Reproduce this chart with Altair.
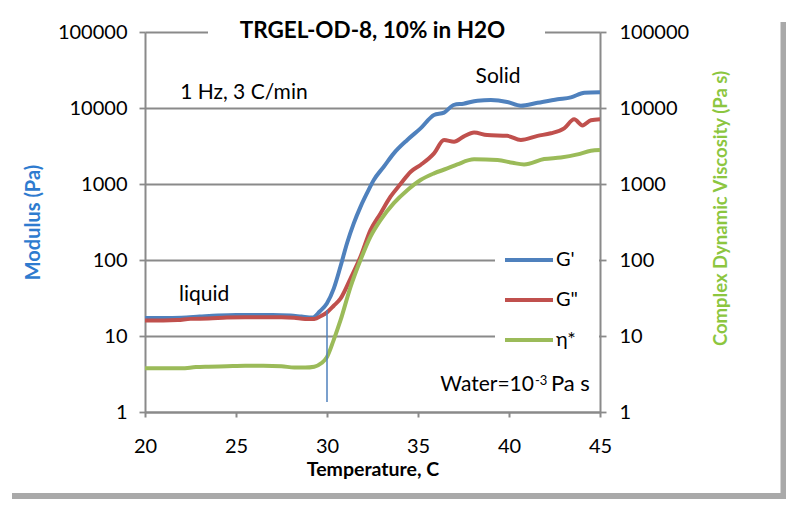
import altair as alt
import pandas as pd

# ---------------- data ----------------
temp_gp = [20, 21, 22, 23, 24, 25, 26, 27, 28, 28.6, 29.2, 29.6, 30.0, 30.37, 30.74, 31.1,
           31.47, 31.84, 32.2, 32.57, 33.12, 33.67, 34.41, 35.14, 35.88, 36.43, 36.98, 37.5,
           38.27, 39.0, 39.9, 40.65, 41.57, 42.67, 43.4, 44.14, 45]
g_prime = [17.3, 17.3, 17.4, 18, 18.6, 18.9, 18.9, 18.9, 18.6, 18, 17.5, 21, 27, 42, 82, 166,
           303, 500, 760, 1130, 1690, 2530, 3800, 5400, 8100, 8700, 11000, 11400,
           12500, 12700, 12000, 10700, 11700, 13000, 13800, 15900, 16100]

temp_gpp = [20, 21, 21.8, 22.5, 23.5, 24.5, 25.5, 26.5, 27.5, 28.2, 28.8, 29.3, 29.7, 30.0,
            30.37, 30.74, 31.29, 31.84, 32.39, 32.94, 33.49, 34.04, 34.6, 35.14, 35.88, 36.43,
            36.98, 37.5, 38.08, 38.8, 39.9, 40.65, 41.57, 42.3, 43.03, 43.58, 44.04, 44.5, 45]
g_dprime = [16, 16, 16.2, 16.8, 17, 17.5, 17.7, 17.7, 17.7, 17.4, 16.8, 16.8, 18.5, 20.5,
            25, 31, 57, 110, 247, 410, 680, 1000, 1450, 1780, 2530, 3800,
            3600, 4200, 4760, 4400, 4300, 3800, 4300, 4650, 5400, 7100, 5900, 6900, 7100]

temp_eta = [20, 21, 22, 22.8, 23.5, 24.5, 25.5, 26.5, 27.5, 28.2, 28.8, 29.3, 29.7, 30.0,
            30.37, 30.74, 31.29, 31.84, 32.39, 32.94, 33.67, 34.41, 35.14, 35.88, 36.61,
            37.16, 38.08, 39.37, 40.2, 40.83, 41.93, 42.85, 43.77, 44.5, 45]
eta_star = [3.75, 3.75, 3.75, 3.9, 3.95, 4.0, 4.05, 4.05, 4.0, 3.85, 3.85, 3.95, 4.4, 5.3,
            8.9, 16, 44, 100, 203, 335, 560, 830, 1130, 1380, 1600,
            1810, 2110, 2070, 1900, 1810, 2130, 2230, 2450, 2740, 2800]

series_names = ["G'", 'G"', "η*"]
series_colors = ["#4F81BD", "#C0504D", "#9BBB59"]
x_ticks = [20, 25, 30, 35, 40, 45]
y_ticks = [1, 10, 100, 1000, 10000, 100000]

transition_T = [30]
transition_low = [1.35]
transition_high = [22]

note_left_text = ["1 Hz, 3 C/min"]
note_left_T = [21.93]
note_left_v = [15700]
note_mid_text = ["Solid", "liquid"]
note_mid_T = [39.4, 23.25]
note_mid_v = [25800, 34.6]
water_T = [41.37]
water_v = [1.906]
water_main = ["Water=10"]
water_exp = ["-3"]
water_unit = ["Pa s"]

title_text = "TRGEL-OD-8, 10% in H2O"

# ---------------- tables ----------------
modulus = pd.concat([
    pd.DataFrame({"T": temp_gp, "v": g_prime, "s": series_names[0]}),
    pd.DataFrame({"T": temp_gpp, "v": g_dprime, "s": series_names[1]}),
])
visc = pd.DataFrame({"T": temp_eta, "v": eta_star, "s": series_names[2]})
vline = pd.DataFrame({"T": transition_T, "lo": transition_low, "hi": transition_high})
notes_left = pd.DataFrame({"t": note_left_text, "T": note_left_T, "v": note_left_v})
notes_mid = pd.DataFrame({"t": note_mid_text, "T": note_mid_T, "v": note_mid_v})
water = pd.DataFrame({"T": water_T, "v": water_v, "a": water_main, "b": water_exp,
                      "c": water_unit})
one = pd.DataFrame({"a": [0]})

FONT = "Lato"
GRID = "#8a8a8a"

xscale = alt.Scale(domain=[20, 45], nice=False, zero=False)
yscale = alt.Scale(type="log", domain=[1, 100000], nice=False)

x_axis = alt.Axis(values=x_ticks, title="Temperature, C", grid=False, domainColor=GRID,
                  domainWidth=2, tickColor=GRID, tickWidth=2, tickSize=5,
                  labelFont=FONT, labelFontSize=20, labelColor="black", labelPadding=35,
                  labelBaseline="alphabetic", labelFlush=False, labelOverlap=False,
                  titleFont=FONT, titleFontSize=19.5, titleFontWeight="bold", titleColor="black",
                  titleY=63, titleBaseline="alphabetic")
X = alt.X("T:Q", scale=xscale, axis=x_axis)

left_axis = alt.Axis(values=y_ticks, format="d", orient="left", title="Modulus (Pa)",
                     grid=True, gridColor=GRID, gridWidth=1.8,
                     domainColor=GRID, domainWidth=2, tickColor=GRID, tickWidth=1.8, tickSize=6,
                     labelFont=FONT, labelFontSize=20, labelColor="black", labelPadding=12,
                     labelOverlap=False, labelFlush=False,
                     titleFont=FONT, titleFontSize=20, titleFontWeight="bold", titleColor="#2E7BCF",
                     titleAngle=270, titleX=-112, titleY=190, titleBaseline="middle")
right_axis = alt.Axis(values=y_ticks, format="d", orient="right",
                      title="Complex Dynamic  Viscosity (Pa s)", grid=False,
                      domainColor=GRID, domainWidth=2, tickColor=GRID, tickWidth=1.8, tickSize=6,
                      labelFont=FONT, labelFontSize=20, labelColor="black", labelPadding=13,
                      labelOverlap=False, labelFlush=False,
                      titleFont=FONT, titleFontSize=18.5, titleFontWeight="bold",
                      titleColor="#8CC63F",
                      titleAngle=270, titleX=120, titleY=176, titleBaseline="middle")

color = alt.Color("s:N", scale=alt.Scale(domain=series_names, range=series_colors),
                  legend=alt.Legend(title=None, orient="none", legendX=350, legendY=194,
                                    symbolType="M-2,0L2,0", symbolSize=576, symbolStrokeWidth=4,
                                    labelOffset=13, padding=20, rowPadding=16,
                                    fillColor="white", labelFont=FONT, labelFontSize=20,
                                    labelColor="black"))

mask = alt.Chart(one).mark_rect(color="white").encode(
    x=alt.value(63), x2=alt.value(400), y=alt.value(-4), y2=alt.value(4))

mod_lines = alt.Chart(modulus).mark_line(strokeWidth=4, interpolate="monotone").encode(
    x=X, y=alt.Y("v:Q", scale=yscale, axis=left_axis), color=color)

visc_line = alt.Chart(visc).mark_line(strokeWidth=4, interpolate="monotone").encode(
    x=X, y=alt.Y("v:Q", scale=yscale, axis=right_axis), color=color)

rule = alt.Chart(vline).mark_rule(color="#4F81BD", strokeWidth=1.5).encode(
    x=X, y=alt.Y("lo:Q", scale=yscale, axis=None), y2="hi:Q")

txt_left = alt.Chart(notes_left).mark_text(align="left", baseline="middle", font=FONT,
                                           fontSize=21, color="black").encode(
    x=X, y=alt.Y("v:Q", scale=yscale, axis=None), text="t:N")
txt_mid = alt.Chart(notes_mid).mark_text(align="center", baseline="middle", font=FONT,
                                         fontSize=21, color="black").encode(
    x=X, y=alt.Y("v:Q", scale=yscale, axis=None), text="t:N")

water_a = alt.Chart(water).mark_text(align="right", baseline="alphabetic", font=FONT,
                                     fontSize=21, color="black").encode(
    x=X, y=alt.Y("v:Q", scale=yscale, axis=None), text="a:N")
water_b = alt.Chart(water).mark_text(align="left", baseline="alphabetic", font=FONT,
                                     fontSize=13, color="black", dx=1, dy=-6).encode(
    x=X, y=alt.Y("v:Q", scale=yscale, axis=None), text="b:N")
water_c = alt.Chart(water).mark_text(align="left", baseline="alphabetic", font=FONT,
                                     fontSize=22, color="black", dx=17).encode(
    x=X, y=alt.Y("v:Q", scale=yscale, axis=None), text="c:N")

shadow_r = alt.Chart(one).mark_rule(color="#a9a9a9", strokeWidth=6).encode(
    x=alt.value(638.5), y=alt.value(-10), y2=alt.value(467))
shadow_b = alt.Chart(one).mark_rule(color="#a9a9a9", strokeWidth=6).encode(
    y=alt.value(464), x=alt.value(-133), x2=alt.value(641))

chart = alt.layer(
    mask, mod_lines, visc_line, rule, txt_left, txt_mid, water_a, water_b, water_c,
    shadow_r, shadow_b
).resolve_scale(y="independent").properties(
    width=455, height=380,
    title=alt.TitleParams(title_text, font=FONT, fontSize=22.5, fontWeight="bold", color="black",
                          anchor="middle", frame="group", baseline="alphabetic", offset=-41),
    autosize=alt.AutoSizeParams(type="none"),
    padding={"left": 137, "top": 24, "right": 186, "bottom": 87},
    background="white",
).configure_view(stroke=None)

chart.save("out.html", embed_options={"renderer": "svg", "actions": False})
